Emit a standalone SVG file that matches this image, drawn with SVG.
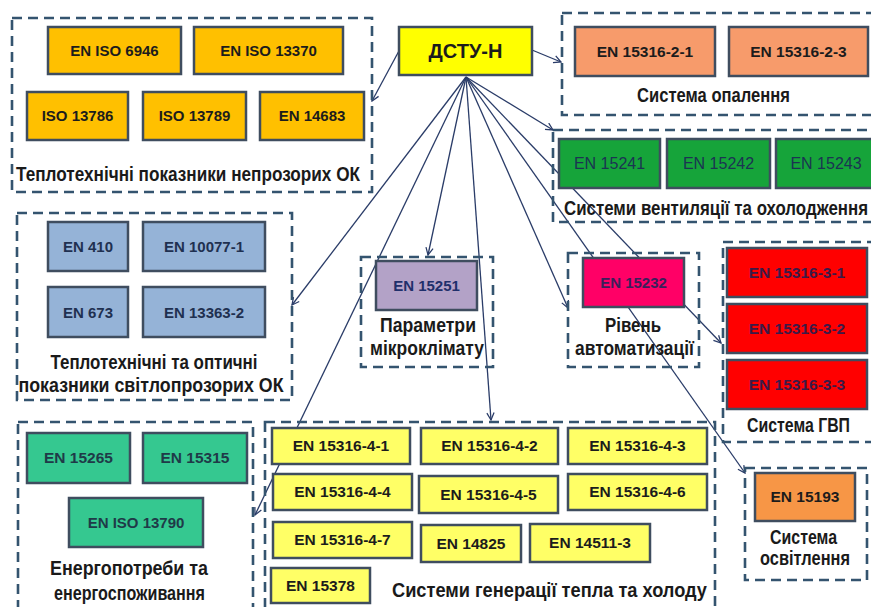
<svg xmlns="http://www.w3.org/2000/svg" width="871" height="607" viewBox="0 0 871 607">
<defs>
<marker id="arr" viewBox="0 0 10 10" refX="9" refY="5" markerWidth="9" markerHeight="9" markerUnits="userSpaceOnUse" orient="auto">
<path d="M1,1 L9,5 L1,9" fill="none" stroke="#2a3c68" stroke-width="1.4"/>
</marker>
</defs>
<style>
.grp{fill:none;stroke:#34546f;stroke-width:2.6;stroke-dasharray:10 6}
.box{stroke:#3f4d5f;stroke-width:2.5}
.bt{font-family:"Liberation Sans",Arial,sans-serif;font-weight:bold;text-anchor:middle}
.s15{font-size:15px}
.s155{font-size:15.5px}
.s16{font-size:16px}
.reg{font-weight:normal}
.k{fill:#1c1c1c}
.nv{fill:#1f3050}
.gn{fill:#1b3452}
.pu{fill:#1f2f6b}
.mg{fill:#3a1f5a}
.rd{fill:#3a1a48}
.tl{fill:#1f3a48}
.cap{font-family:"Liberation Sans",Arial,sans-serif;font-size:19.5px;font-weight:bold;fill:#1a1a1a}
.c{text-anchor:middle}
.ln{fill:none;stroke:#2a3c68;stroke-width:1.3;marker-end:url(#arr)}
</style>
<rect width="871" height="607" fill="#ffffff"/>

<g id="connectors">
<line class="ln" x1="400" y1="49" x2="372" y2="101"/>
<line class="ln" x1="532" y1="50" x2="561" y2="62"/>
<line class="ln" x1="466" y1="77" x2="553" y2="130"/>
<line class="ln" x1="466" y1="77" x2="292" y2="305"/>
<line class="ln" x1="466" y1="77" x2="428" y2="255"/>
<line class="ln" x1="466" y1="77" x2="491" y2="420"/>
<line class="ln" x1="466" y1="77" x2="568" y2="308"/>
<line class="ln" x1="466" y1="77" x2="721" y2="343"/>
<line class="ln" x1="466" y1="77" x2="745" y2="473"/>
<line class="ln" x1="466" y1="77" x2="255" y2="515"/>
</g>

<g id="hub">
<rect class="box" x="399" y="27" width="133" height="48" fill="#ffff00"/>
<text class="bt k" x="465.5" y="58" style="font-size:20px">ДСТУ-Н</text>
</g>

<g id="opaque-thermal">
<rect class="grp" x="12" y="18" width="360" height="174"/>
<rect class="box" x="48" y="27" width="133" height="47" fill="#ffc000"/>
<text class="bt s15 k" x="114.5" y="56">EN ISO 6946</text>
<rect class="box" x="194" y="27" width="149" height="47" fill="#ffc000"/>
<text class="bt s15 k" x="268.5" y="56">EN ISO 13370</text>
<rect class="box" x="27" y="92" width="101" height="48" fill="#ffc000"/>
<text class="bt s15 k" x="77.5" y="121">ISO 13786</text>
<rect class="box" x="143" y="92" width="103" height="48" fill="#ffc000"/>
<text class="bt s15 k" x="194.5" y="121">ISO 13789</text>
<rect class="box" x="260" y="92" width="104" height="48" fill="#ffc000"/>
<text class="bt s15 k" x="312" y="121">EN 14683</text>
<text class="cap c" x="188" y="181" textLength="344" lengthAdjust="spacingAndGlyphs">Теплотехнічні показники непрозорих ОК</text>
</g>

<g id="heating">
<rect class="grp" x="562" y="13" width="320" height="102"/>
<rect class="box" x="575" y="27" width="140" height="49" fill="#f79b6b"/>
<text class="bt s155 k" x="645" y="57">EN 15316-2-1</text>
<rect class="box" x="729" y="27" width="139" height="49" fill="#f79b6b"/>
<text class="bt s155 k" x="798.5" y="57">EN 15316-2-3</text>
<text class="cap c" x="713.5" y="102" textLength="153" lengthAdjust="spacingAndGlyphs">Система опалення</text>
</g>

<g id="ventilation">
<rect class="grp" x="553" y="130" width="330" height="92"/>
<rect class="box" x="559" y="139" width="101" height="49" fill="#16a43a"/>
<text class="bt s16 reg gn" x="609.5" y="169">EN 15241</text>
<rect class="box" x="667" y="139" width="103" height="49" fill="#16a43a"/>
<text class="bt s16 reg gn" x="718.5" y="169">EN 15242</text>
<rect class="box" x="776" y="139" width="100" height="49" fill="#16a43a"/>
<text class="bt s16 reg gn" x="826" y="169">EN 15243</text>
<text class="cap" x="564" y="215" textLength="304" lengthAdjust="spacingAndGlyphs">Системи вентиляції та охолодження</text>
</g>

<g id="transparent-thermal">
<rect class="grp" x="17" y="213" width="275" height="187"/>
<rect class="box" x="48" y="222" width="80" height="49" fill="#95b3d7"/>
<text class="bt s15 nv" x="88" y="252">EN 410</text>
<rect class="box" x="143" y="222" width="122" height="49" fill="#95b3d7"/>
<text class="bt s15 nv" x="204" y="252">EN 10077-1</text>
<rect class="box" x="48" y="287" width="80" height="50" fill="#95b3d7"/>
<text class="bt s15 nv" x="88" y="318">EN 673</text>
<rect class="box" x="143" y="287" width="122" height="50" fill="#95b3d7"/>
<text class="bt s15 nv" x="204" y="318">EN 13363-2</text>
<text class="cap c" x="154" y="369" textLength="207" lengthAdjust="spacingAndGlyphs">Теплотехнічні та оптичні</text>
<text class="cap c" x="151" y="392" textLength="265" lengthAdjust="spacingAndGlyphs">показники світлопрозорих ОК</text>
</g>

<g id="microclimate">
<rect class="grp" x="361" y="257" width="132" height="110"/>
<rect class="box" x="376" y="261" width="101" height="49" fill="#b3a2c7"/>
<text class="bt s15 pu" x="426.5" y="291">EN 15251</text>
<text class="cap c" x="428" y="332" textLength="96" lengthAdjust="spacingAndGlyphs">Параметри</text>
<text class="cap c" x="427" y="355" textLength="114" lengthAdjust="spacingAndGlyphs">мікроклімату</text>
</g>

<g id="automation">
<rect class="grp" x="568" y="253" width="131" height="114"/>
<rect class="box" x="583" y="258" width="101" height="49" fill="#ff0066"/>
<text class="bt s15 mg" x="633.5" y="288">EN 15232</text>
<text class="cap c" x="633" y="332" textLength="56" lengthAdjust="spacingAndGlyphs">Рівень</text>
<text class="cap c" x="634.5" y="355" textLength="119" lengthAdjust="spacingAndGlyphs">автоматизації</text>
</g>

<g id="hot-water">
<rect class="grp" x="723" y="242" width="160" height="200"/>
<rect class="box" x="727" y="248" width="140" height="49" fill="#ff0000"/>
<text class="bt s155 rd" x="797" y="278">EN 15316-3-1</text>
<rect class="box" x="727" y="304" width="140" height="49" fill="#ff0000"/>
<text class="bt s155 rd" x="797" y="334">EN 15316-3-2</text>
<rect class="box" x="727" y="360" width="140" height="49" fill="#ff0000"/>
<text class="bt s155 rd" x="797" y="390">EN 15316-3-3</text>
<text class="cap c" x="798.5" y="432" textLength="103" lengthAdjust="spacingAndGlyphs">Система ГВП</text>
</g>

<g id="lighting">
<rect class="grp" x="745" y="468" width="122" height="112"/>
<rect class="box" x="755" y="473" width="100" height="48" fill="#f79646"/>
<text class="bt s155 k" x="805" y="502">EN 15193</text>
<text class="cap c" x="803.5" y="544" textLength="67" lengthAdjust="spacingAndGlyphs">Система</text>
<text class="cap c" x="805" y="565" textLength="90" lengthAdjust="spacingAndGlyphs">освітлення</text>
</g>

<g id="generation">
<rect class="grp" x="265" y="422" width="450" height="195"/>
<rect class="box" x="272" y="428" width="138" height="36" fill="#ffff66"/>
<text class="bt s155 k" x="341" y="451">EN 15316-4-1</text>
<rect class="box" x="421" y="428" width="137" height="36" fill="#ffff66"/>
<text class="bt s155 k" x="489.5" y="451">EN 15316-4-2</text>
<rect class="box" x="568" y="428" width="139" height="36" fill="#ffff66"/>
<text class="bt s155 k" x="637.5" y="451">EN 15316-4-3</text>
<rect class="box" x="273" y="474" width="139" height="36" fill="#ffff66"/>
<text class="bt s155 k" x="342.5" y="497">EN 15316-4-4</text>
<rect class="box" x="419" y="476" width="139" height="37" fill="#ffff66"/>
<text class="bt s155 k" x="488.5" y="500">EN 15316-4-5</text>
<rect class="box" x="568" y="474" width="139" height="36" fill="#ffff66"/>
<text class="bt s155 k" x="637.5" y="497">EN 15316-4-6</text>
<rect class="box" x="273" y="522" width="139" height="36" fill="#ffff66"/>
<text class="bt s155 k" x="342.5" y="545">EN 15316-4-7</text>
<rect class="box" x="421" y="525" width="100" height="37" fill="#ffff66"/>
<text class="bt s155 k" x="471" y="549">EN 14825</text>
<rect class="box" x="530" y="524" width="120" height="38" fill="#ffff66"/>
<text class="bt s155 k" x="590" y="548">EN 14511-3</text>
<rect class="box" x="271" y="568" width="99" height="35" fill="#ffff66"/>
<text class="bt s155 k" x="320.5" y="591">EN 15378</text>
<text class="cap c" x="549.5" y="597" textLength="315" lengthAdjust="spacingAndGlyphs">Системи генерації тепла та холоду</text>
</g>

<g id="energy">
<rect class="grp" x="18" y="422" width="235" height="195"/>
<rect class="box" x="27" y="433" width="103" height="50" fill="#35c890"/>
<text class="bt s155 tl" x="78.5" y="463">EN 15265</text>
<rect class="box" x="143" y="433" width="104" height="50" fill="#35c890"/>
<text class="bt s155 tl" x="195" y="463">EN 15315</text>
<rect class="box" x="69" y="498" width="134" height="49" fill="#35c890"/>
<text class="bt s15 tl" x="136" y="528">EN ISO 13790</text>
<text class="cap c" x="129" y="575" textLength="158" lengthAdjust="spacingAndGlyphs">Енергопотреби та</text>
<text class="cap c" x="129.5" y="600" textLength="151" lengthAdjust="spacingAndGlyphs">енергоспоживання</text>
</g>
</svg>
